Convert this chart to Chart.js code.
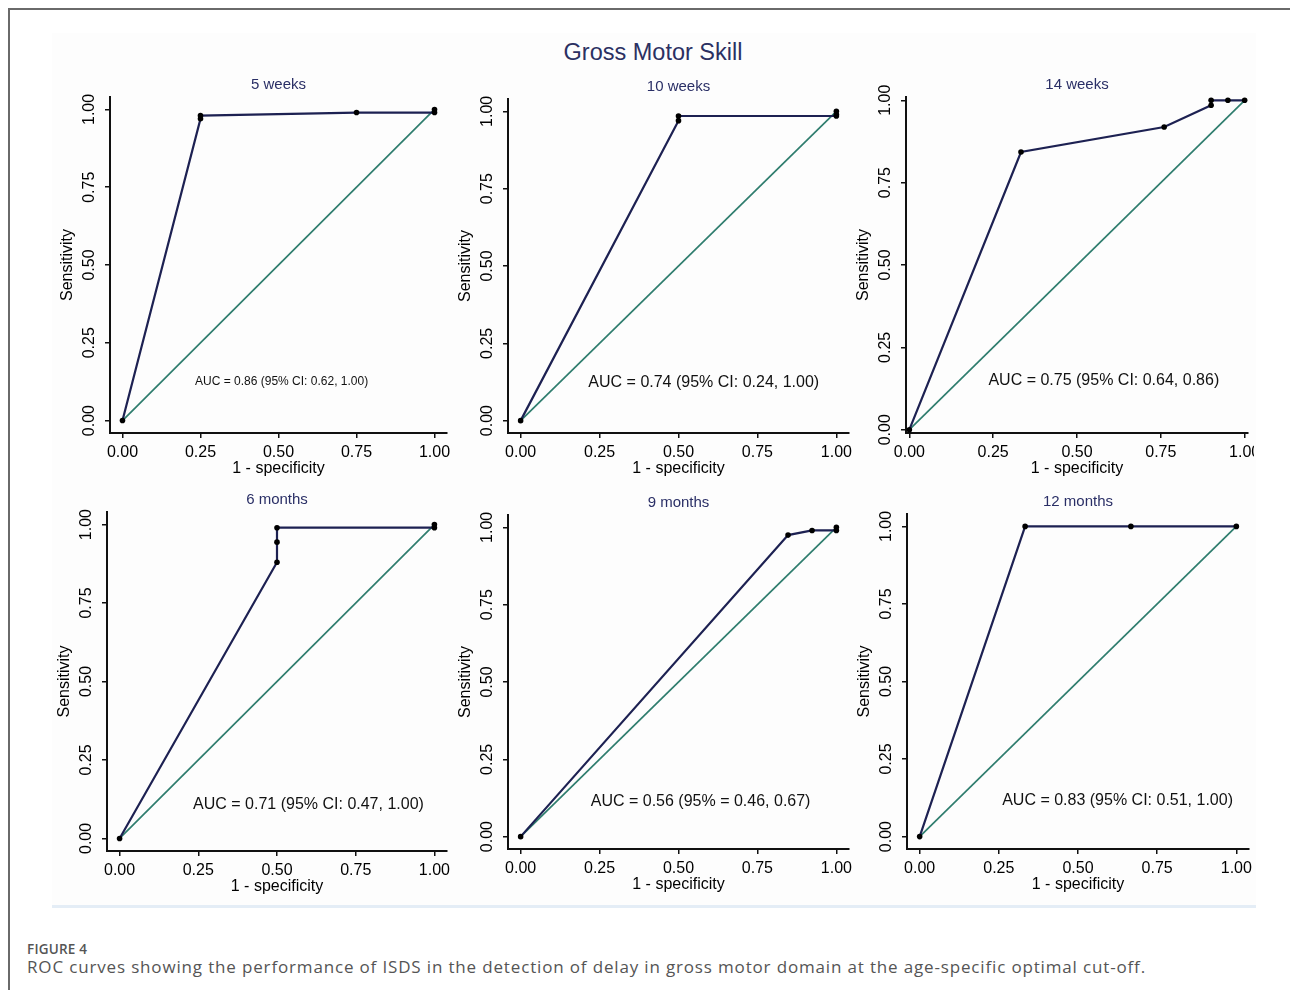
<!DOCTYPE html>
<html>
<head>
<meta charset="utf-8">
<script src="https://cdn.jsdelivr.net/npm/chart.js@4.4.1/dist/chart.umd.min.js"></script>
<style>
  body { margin: 0; width: 1290px; height: 990px; overflow: hidden; position: relative; background: #fff; font-family: "Liberation Sans", Arial, sans-serif; }
  #frame { position: absolute; left: 8px; top: 8px; width: 1300px; height: 1000px; border-left: 2px solid #6a6a6a; border-top: 2px solid #6a6a6a; }
  #figure { position: absolute; left: 52px; top: 33px; width: 1204px; height: 872px; background: #fdfdfd; border-bottom: 3px solid #e4edf6; }
  #mainTitle { position: absolute; left: 453px; top: 39px; width: 400px; text-align: center; font-size: 23.5px; line-height: 26px; color: #2b3062; }
  canvas { position: absolute; }
  #figLabel { position: absolute; left: 27px; top: 940px; font: 600 13.5px "Open Sans", sans-serif; color: #555; letter-spacing: 0.2px; }
  #caption { position: absolute; left: 27px; top: 955px; font: 17px "Open Sans", sans-serif; color: #555; letter-spacing: 0.84px; white-space: nowrap; }
</style>
</head>
<body>
<div id="frame"></div>
<div id="figure"></div>
<div id="mainTitle">Gross Motor Skill</div>
<canvas id="c0"></canvas>
<canvas id="c1"></canvas>
<canvas id="c2"></canvas>
<canvas id="c3"></canvas>
<canvas id="c4"></canvas>
<canvas id="c5"></canvas>
<div id="figLabel">FIGURE 4</div>
<div id="caption">ROC curves showing the performance of ISDS in the detection of delay in gross motor domain at the age-specific optimal cut-off.</div>

<script>
// panel titles and AUC annotations
const panelTitles = ["5 weeks", "10 weeks", "14 weeks", "6 months", "9 months", "12 months"];
const aucLabels = [
  "AUC = 0.86 (95% CI: 0.62, 1.00)",
  "AUC = 0.74 (95% CI: 0.24, 1.00)",
  "AUC = 0.75 (95% CI: 0.64, 0.86)",
  "AUC = 0.71 (95% CI: 0.47, 1.00)",
  "AUC = 0.56 (95% = 0.46, 0.67)",
  "AUC = 0.83 (95% CI: 0.51, 1.00)"
];

// ROC points (1 - specificity, sensitivity)
const fpr5w = [0, 0.25, 0.25, 0.75, 1, 1];
const tpr5w = [0, 0.97, 0.98, 0.99, 0.99, 1];
const fpr10w = [0, 0.5, 0.5, 1, 1, 1];
const tpr10w = [0, 0.97, 0.985, 0.985, 0.99, 1];
const fpr14w = [0, 0.333, 0.76, 0.90, 0.90, 0.95, 1];
const tpr14w = [0, 0.843, 0.919, 0.985, 1, 1, 1];
const fpr6m = [0, 0.5, 0.5, 0.5, 1, 1];
const tpr6m = [0, 0.88, 0.944, 0.99, 0.99, 1];
const fpr9m = [0, 0.847, 0.923, 1, 1];
const tpr9m = [0, 0.975, 0.99, 0.99, 1];
const fpr12m = [0, 0.333, 0.667, 1];
const tpr12m = [0, 1, 1, 1];

// reference (chance) line
const refX = [0, 1];
const refY = [0, 1];

const tickValues = [0, 0.25, 0.5, 0.75, 1];
const tickLabels = ["0.00", "0.25", "0.50", "0.75", "1.00"];

const rocX = [fpr5w, fpr10w, fpr14w, fpr6m, fpr9m, fpr12m];
const rocY = [tpr5w, tpr10w, tpr14w, tpr6m, tpr9m, tpr12m];

// layout of each panel: plot box in page pixels, axis range, clip edge, AUC text spot
const layout = [
  { L: 110, T: 97,  R: 450,  B: 433, lo: -0.04, hi: 1.04, clip: 451,  ax: 0.51, ay: 0.125, af: "12px" },
  { L: 508, T: 99,  R: 849,  B: 433, lo: -0.04, hi: 1.04, clip: 866,  ax: 0.58, ay: 0.123, af: "16px" },
  { L: 906, T: 97,  R: 1248, B: 433, lo: -0.01, hi: 1.01, clip: 1254, ax: 0.58, ay: 0.148, af: "16px" },
  { L: 107, T: 512, R: 452,  B: 851, lo: -0.04, hi: 1.04, clip: 451,  ax: 0.60, ay: 0.108, af: "16px" },
  { L: 508, T: 515, R: 849,  B: 849, lo: -0.04, hi: 1.04, clip: 866,  ax: 0.57, ay: 0.113, af: "16px" },
  { L: 907, T: 514, R: 1249, B: 849, lo: -0.04, hi: 1.04, clip: 1262, ax: 0.625, ay: 0.116, af: "16px" }
];

const Y_W = 52, X_H = 45, PAD_T = 30, PAD_B = 2;
const FONT = "'Liberation Sans', Arial, sans-serif";

const annotate = {
  id: "annotate",
  afterDraw(chart, args, opts) {
    const { ctx, chartArea, scales } = chart;
    ctx.save();
    ctx.textAlign = "center";
    ctx.textBaseline = "middle";
    ctx.fillStyle = "#2a2f66";
    ctx.font = "15px " + FONT;
    ctx.fillText(opts.title, scales.x.getPixelForValue(0.5), chartArea.top - 12);
    ctx.fillStyle = "#111";
    ctx.font = opts.aucFont + " " + FONT;
    ctx.fillText(opts.auc, scales.x.getPixelForValue(opts.aucX), scales.y.getPixelForValue(opts.aucY));
    ctx.restore();
  }
};

function axis(lo, hi, isY) {
  return {
    type: "linear",
    min: lo,
    max: hi,
    afterBuildTicks: (s) => { s.ticks = tickValues.map((v) => ({ value: v })); },
    afterFit: (s) => {
      // fixed box sizes, and no extra room for edge labels (they may be clipped, as in the original)
      if (isY) s.width = Y_W; else s.height = X_H;
      s.paddingLeft = 0; s.paddingRight = 0; s.paddingTop = 0; s.paddingBottom = 0;
    },
    grid: { display: true, drawOnChartArea: false, drawTicks: true, tickLength: 5, color: "#111", lineWidth: 1.5 },
    border: { display: true, color: "#111", width: 2 },
    ticks: {
      autoSkip: false,
      color: "#000",
      font: { family: FONT, size: 16 },
      padding: isY ? 0 : 5,
      minRotation: isY ? 90 : 0,
      maxRotation: isY ? 90 : 0,
      crossAlign: isY ? "center" : "near",
      callback: (value) => tickLabels[tickValues.indexOf(value)]
    },
    title: {
      display: true,
      text: isY ? "Sensitivity" : "1 - specificity",
      color: "#000",
      font: { family: FONT, size: 16 },
      padding: 0
    }
  };
}

layout.forEach((p, i) => {
  const cv = document.getElementById("c" + i);
  const left = p.L - Y_W;
  const top = p.T - PAD_T;
  const width = p.clip - left;
  const height = PAD_T + (p.B - p.T) + X_H + PAD_B;
  cv.width = width;
  cv.height = height;
  cv.style.left = left + "px";
  cv.style.top = top + "px";
  cv.style.width = width + "px";
  cv.style.height = height + "px";

  const roc = rocX[i].map((x, k) => ({ x: x, y: rocY[i][k] }));
  const ref = refX.map((x, k) => ({ x: x, y: refY[k] }));

  new Chart(cv, {
    type: "scatter",
    data: {
      datasets: [
        {
          data: roc,
          showLine: true,
          borderColor: "#1d2152",
          borderWidth: 2.2,
          pointRadius: 2.8,
          pointBackgroundColor: "#000",
          pointBorderWidth: 0,
          clip: 6
        },
        {
          data: ref,
          showLine: true,
          borderColor: "#2f7d6e",
          borderWidth: 1.7,
          pointRadius: 0
        }
      ]
    },
    options: {
      responsive: false,
      animation: false,
      devicePixelRatio: 1,
      layout: { padding: { top: PAD_T, bottom: PAD_B, left: 0, right: width - (p.R - left) } },
      scales: { x: axis(p.lo, p.hi, false), y: axis(p.lo, p.hi, true) },
      plugins: {
        legend: { display: false },
        tooltip: { enabled: false },
        annotate: { title: panelTitles[i], auc: aucLabels[i], aucX: p.ax, aucY: p.ay, aucFont: p.af }
      }
    },
    plugins: [annotate]
  });
});
</script>
</body>
</html>
